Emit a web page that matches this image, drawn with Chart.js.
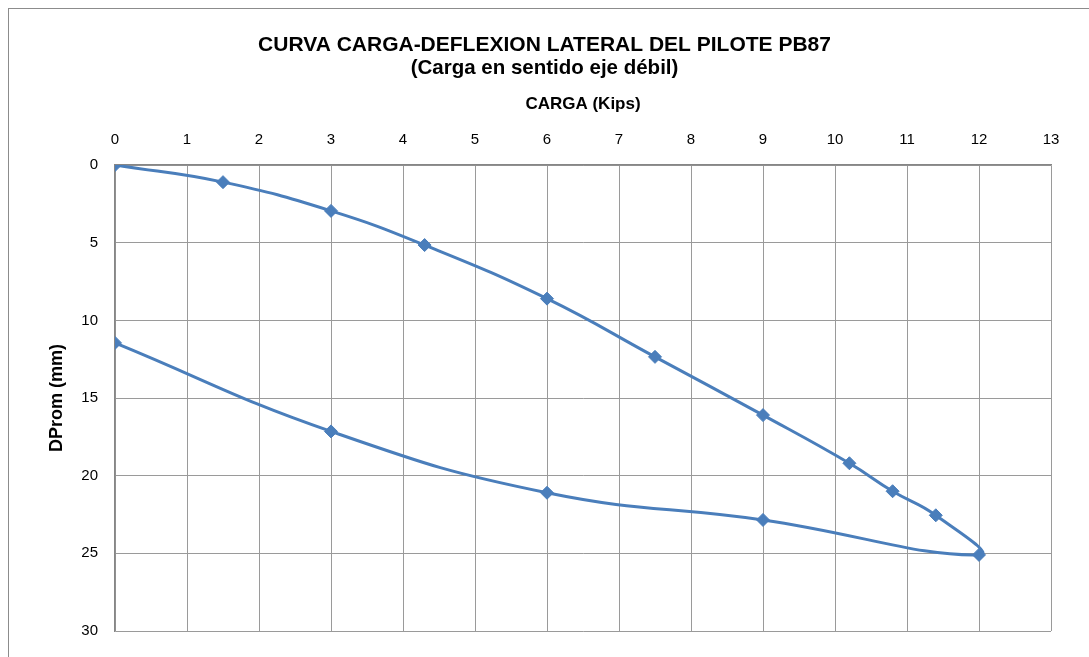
<!DOCTYPE html>
<html lang="es">
  <head>
    <meta charset="UTF-8" />
    <title>Curva carga-deflexión lateral PB87</title>
    <script src="https://cdn.jsdelivr.net/npm/chart.js"></script>
    <style>
      body {
        margin: 0;
        background: #fff;
      }
    </style>
  </head>
  <body>
    <canvas id="curvaChart" width="1089" height="657"></canvas>
    <script>
      // Carga aplicada (Kips) y deflexión promedio (mm), en orden de ensayo
      const carga = [0, 1.5, 3, 4.3, 6, 7.5, 9, 10.2, 10.8, 11.4, 12, 9, 6, 3, 0];
      const dprom = [0, 1.1, 2.95, 5.15, 8.6, 12.35, 16.1, 19.2, 21.0, 22.55, 25.1, 22.85, 21.1, 17.15, 11.45];

      const puntos = carga.map((c, i) => ({ x: c, y: dprom[i] }));

      // marco gris alrededor del gráfico
      const marco = {
        id: 'marco',
        beforeDraw(chart) {
          const ctx = chart.ctx;
          ctx.save();
          ctx.fillStyle = '#fff';
          ctx.fillRect(0, 0, chart.width, chart.height);
          ctx.strokeStyle = '#8c8c8c';
          ctx.lineWidth = 1;
          ctx.strokeRect(8.5, 8.5, 1300, 900);
          ctx.restore();
        },
      };

      const fuente = 'Liberation Sans, Arial, sans-serif';

      const ctx = document.getElementById('curvaChart').getContext('2d');
      new Chart(ctx, {
        type: 'scatter',
        data: {
          datasets: [
            {
              label: 'DProm',
              data: puntos,
              showLine: true,
              borderColor: '#4a7ebb',
              backgroundColor: '#4a7ebb',
              borderWidth: 3,
              tension: 0.45,
              pointStyle: 'rectRot',
              pointRadius: 6.5,
              pointBorderWidth: 1,
              pointBorderColor: '#4a7ebb',
            },
          ],
        },
        options: {
          responsive: false,
          animation: false,
          layout: { padding: { top: 8, left: 0, right: 0, bottom: 20 } },
          plugins: {
            legend: { display: false },
            tooltip: { enabled: false },
            title: {
              display: true,
              text: 'CURVA CARGA-DEFLEXION LATERAL DEL PILOTE PB87',
              color: '#000',
              font: { family: fuente, size: 21, weight: 'bold', lineHeight: 1.1 },
              padding: { top: 25.5, bottom: 0 },
            },
            subtitle: {
              display: true,
              text: '(Carga en sentido eje débil)',
              color: '#000',
              font: { family: fuente, size: 20.5, weight: 'bold', lineHeight: 1.13 },
              padding: { top: 0, bottom: 0 },
            },
          },
          scales: {
            x: {
              type: 'linear',
              position: 'top',
              min: 0,
              max: 13,
              ticks: {
                stepSize: 1,
                color: '#000',
                padding: 16,
                font: { family: fuente, size: 15 },
              },
              grid: { color: '#9a9a9a', drawTicks: false },
              border: { color: '#868686', width: 1.5 },
              title: {
                display: true,
                text: 'CARGA (Kips)',
                color: '#000',
                font: { family: fuente, size: 17, weight: 'bold' },
                padding: { top: 14.1, bottom: 0 },
              },
              afterFit(scale) {
                scale.height = 85.3;
              },
            },
            y: {
              type: 'linear',
              reverse: true,
              min: 0,
              max: 30,
              ticks: {
                stepSize: 5,
                color: '#000',
                padding: 17,
                font: { family: fuente, size: 15 },
              },
              grid: { color: '#9a9a9a', drawTicks: false },
              border: { color: '#868686', width: 1.5 },
              title: {
                display: true,
                text: 'DProm (mm)',
                color: '#000',
                font: { family: fuente, size: 18, weight: 'bold' },
                padding: { top: 46, bottom: 0 },
              },
              afterFit(scale) {
                scale.width = 115;
              },
            },
            // eje vacío a la derecha: deja el margen sin descentrar el título
            margen: {
              type: 'linear',
              position: 'right',
              ticks: { display: false },
              grid: { display: false },
              border: { display: false },
              afterFit(scale) {
                scale.width = 38;
              },
            },
          },
        },
        plugins: [marco],
      });
    </script>
  </body>
</html>
